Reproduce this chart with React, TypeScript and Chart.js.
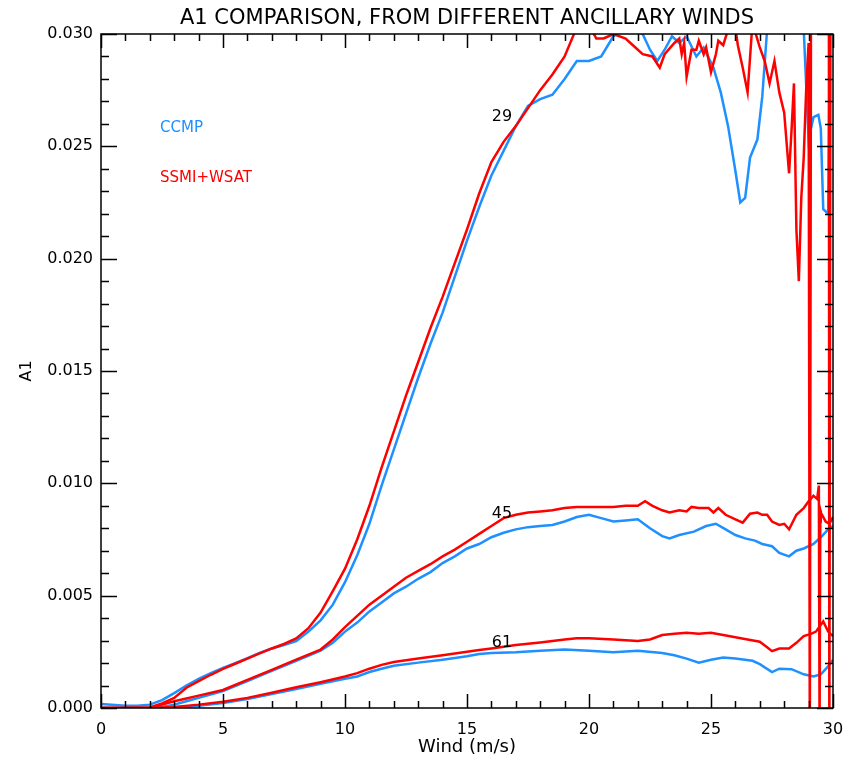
import React, { useEffect, useRef } from 'react';
import { Chart, registerables } from 'chart.js';

Chart.register(...registerables);

const FONT = '"DejaVu Sans", sans-serif';
const TITLE = 'A1 COMPARISON, FROM DIFFERENT ANCILLARY WINDS';
const X_TITLE = 'Wind (m/s)';
const Y_TITLE = 'A1';
const BLUE = '#1e90ff';
const RED = '#ff0000';

// Axis ranges / ticks
const xRange = [0, 30];
const yRange = [0, 0.03];
const xMajorStep = 5;
const xMinorStep = 1;
const yMajorStep = 0.005;
const yMinorStep = 0.001;

// CCMP, 29
const ccmp29W = [0, 1, 1.5, 2, 2.5, 3, 3.5, 4, 4.5, 5, 5.5, 6, 6.5, 7, 7.5, 8, 8.5, 9, 9.5, 10, 10.5, 11, 11.5, 12, 12.5, 13, 13.5, 14, 14.5, 15, 15.5, 16, 16.5, 17, 17.5, 18, 18.5, 19, 19.5, 20, 20.5, 21, 21.3, 21.8, 22.2, 22.5, 22.8, 23.1, 23.4, 23.7, 24, 24.4, 24.7, 25.1, 25.4, 25.7, 26, 26.2, 26.4, 26.6, 26.9, 27.1, 27.3, 27.6, 28, 28.5, 28.8, 29, 29.2, 29.4, 29.5, 29.6, 29.8, 29.9];
const ccmp29 = [0.00018, 0.0001, 0.0001, 0.00015, 0.00035, 0.00066, 0.001, 0.0013, 0.00155, 0.00179, 0.002, 0.00222, 0.00245, 0.00265, 0.0028, 0.00298, 0.0034, 0.0039, 0.0046, 0.0056, 0.0068, 0.0082, 0.0099, 0.0115, 0.0131, 0.0147, 0.0162, 0.0176, 0.0192, 0.0208, 0.0223, 0.0237, 0.0248, 0.0259, 0.0268, 0.0271, 0.0273, 0.028, 0.0288, 0.0288, 0.029, 0.0299, 0.0301, 0.0303, 0.03, 0.0293, 0.0288, 0.0293, 0.0299, 0.0296, 0.0299, 0.029, 0.0294, 0.0285, 0.0274, 0.0259, 0.0239, 0.0225, 0.0227, 0.0245, 0.0253, 0.0272, 0.0302, 0.0315, 0.032, 0.0315, 0.0302, 0.0253, 0.0263, 0.0264, 0.0258, 0.0222, 0.022, 0.033];

// SSMI+WSAT, 29
const ssmi29W = [0, 1, 2, 2.5, 3, 3.5, 4, 4.5, 5, 5.5, 6, 6.5, 7, 7.5, 8, 8.5, 9, 9.5, 10, 10.5, 11, 11.5, 12, 12.5, 13, 13.5, 14, 14.5, 15, 15.5, 16, 16.5, 17, 17.5, 18, 18.5, 19, 19.5, 20, 20.3, 20.6, 21, 21.5, 21.8, 22.2, 22.6, 22.9, 23.1, 23.5, 23.7, 23.8, 23.9, 24, 24.2, 24.4, 24.5, 24.7, 24.8, 25, 25.2, 25.3, 25.5, 25.7, 25.9, 26.1, 26.3, 26.5, 26.7, 27, 27.2, 27.4, 27.6, 27.8, 28, 28.2, 28.3, 28.4, 28.5, 28.6, 28.7, 28.8, 28.9, 29, 29.05, 29.1, 29.5, 29.83, 29.85, 29.9, 30];
const ssmi29 = [0, 0, 0.00002, 0.0002, 0.00045, 0.0009, 0.0012, 0.00148, 0.00174, 0.00197, 0.0022, 0.00243, 0.00265, 0.00285, 0.0031, 0.00355, 0.00425, 0.0052, 0.0062, 0.0075, 0.009, 0.0107, 0.0123, 0.0139, 0.0154, 0.0169, 0.0183, 0.0198, 0.0213, 0.0229, 0.0243, 0.0252, 0.0259, 0.0267, 0.0275, 0.0282, 0.029, 0.0303, 0.0304, 0.0298, 0.0298, 0.03, 0.0298, 0.0295, 0.0291, 0.029, 0.0285, 0.0291, 0.0296, 0.0298, 0.0291, 0.0296, 0.0281, 0.0293, 0.0293, 0.0297, 0.0291, 0.0294, 0.0283, 0.0291, 0.0297, 0.0295, 0.0302, 0.031, 0.0295, 0.0285, 0.0274, 0.0305, 0.0294, 0.0288, 0.0278, 0.0288, 0.0274, 0.0265, 0.0238, 0.0257, 0.0278, 0.0213, 0.019, 0.0227, 0.0245, 0.0275, 0.0296, -0.002, 0.033, 0.034, 0.034, -0.002, 0.034, 0.034];

// CCMP, 45
const ccmp45W = [0, 2, 2.5, 3, 3.5, 4, 5, 6, 7, 8, 9, 9.5, 10, 10.5, 11, 11.5, 12, 12.5, 13, 13.5, 14, 14.5, 15, 15.5, 16, 16.5, 17, 17.5, 18, 18.5, 19, 19.5, 20, 20.5, 21, 21.5, 22, 22.5, 23, 23.3, 23.7, 24.3, 24.8, 25.2, 25.6, 26, 26.4, 26.8, 27.1, 27.5, 27.8, 28.2, 28.5, 28.8, 29.2, 29.5, 29.8, 30];
const ccmp45 = [0, 0, 0.00005, 0.00015, 0.0003, 0.00045, 0.00075, 0.0012, 0.00165, 0.0021, 0.00255, 0.0029, 0.0034, 0.0038, 0.0043, 0.0047, 0.0051, 0.0054, 0.00575, 0.00605, 0.00645, 0.00675, 0.0071, 0.0073, 0.0076, 0.0078, 0.00795, 0.00805, 0.0081, 0.00815, 0.0083, 0.0085, 0.0086, 0.00845, 0.0083, 0.00835, 0.0084, 0.008, 0.00765, 0.00755, 0.0077, 0.00785, 0.0081, 0.0082, 0.00795, 0.0077, 0.00755, 0.00745, 0.0073, 0.0072, 0.0069, 0.00675, 0.007, 0.0071, 0.0073, 0.0076, 0.00795, 0.0081];

// SSMI+WSAT, 45
const ssmi45W = [0, 2, 2.5, 3, 3.5, 4, 5, 6, 7, 8, 9, 9.5, 10, 10.5, 11, 11.5, 12, 12.5, 13, 13.5, 14, 14.5, 15, 15.5, 16, 16.5, 17, 17.5, 18, 18.5, 19, 19.5, 20, 20.5, 21, 21.5, 22, 22.3, 22.6, 23, 23.3, 23.7, 24, 24.2, 24.5, 24.9, 25.1, 25.3, 25.6, 26, 26.3, 26.6, 26.9, 27.1, 27.3, 27.5, 27.8, 28, 28.2, 28.5, 28.8, 29, 29.2, 29.35, 29.42, 29.45, 29.48, 29.5, 29.7, 29.85, 30];
const ssmi45 = [0, 0, 0.00015, 0.0003, 0.00042, 0.00055, 0.0008, 0.00125, 0.0017, 0.00215, 0.0026, 0.00305, 0.0036, 0.0041, 0.0046, 0.005, 0.0054, 0.0058, 0.0061, 0.0064, 0.00675, 0.00705, 0.0074, 0.00775, 0.0081, 0.00845, 0.0086, 0.0087, 0.00875, 0.0088, 0.0089, 0.00895, 0.00895, 0.00895, 0.00895, 0.009, 0.009, 0.0092, 0.009, 0.0088, 0.0087, 0.0088, 0.00875, 0.00895, 0.0089, 0.0089, 0.0087, 0.0089, 0.0086, 0.0084, 0.00825, 0.00865, 0.0087, 0.0086, 0.0086, 0.0083, 0.00815, 0.0082, 0.00795, 0.0086, 0.0089, 0.0092, 0.00945, 0.0093, 0.0099, -0.001, 0.0088, 0.0087, 0.0083, 0.0082, 0.0085];

// CCMP, 61
const ccmp61W = [0, 2, 3, 4, 5, 6, 7, 8, 9, 10, 10.5, 11, 11.5, 12, 13, 14, 15, 15.5, 16, 17, 18, 19, 20, 21, 22, 23, 23.5, 24, 24.5, 25, 25.5, 26, 26.7, 27, 27.5, 27.8, 28.3, 28.8, 29.2, 29.5, 29.8, 30];
const ccmp61 = [0, 0, 0.00002, 0.0001, 0.00022, 0.0004, 0.00062, 0.00085, 0.00108, 0.0013, 0.0014, 0.0016, 0.00175, 0.00188, 0.00202, 0.00215, 0.0023, 0.0024, 0.00245, 0.00248, 0.00255, 0.0026, 0.00255, 0.00248, 0.00255, 0.00245, 0.00235, 0.0022, 0.00202, 0.00215, 0.00225, 0.0022, 0.0021, 0.00195, 0.0016, 0.00175, 0.00173, 0.0015, 0.0014, 0.0015, 0.00185, 0.00215];

// SSMI+WSAT, 61
const ssmi61W = [0, 2, 3, 4, 5, 6, 7, 8, 9, 10, 10.5, 11, 11.5, 12, 13, 14, 15, 15.5, 16, 17, 18, 19, 19.5, 20, 21, 22, 22.5, 23, 23.5, 24, 24.5, 25, 25.5, 26, 26.5, 27, 27.3, 27.5, 27.8, 28.2, 28.5, 28.8, 29.1, 29.3, 29.6, 29.8, 30];
const ssmi61 = [0, 0, 0.00005, 0.00015, 0.00028, 0.00045, 0.00068, 0.00092, 0.00115, 0.0014, 0.00155, 0.00175, 0.00192, 0.00205, 0.0022, 0.00235, 0.0025, 0.00258, 0.00265, 0.0028, 0.00292, 0.00305, 0.0031, 0.0031, 0.00305, 0.00298, 0.00305, 0.00325, 0.0033, 0.00335, 0.0033, 0.00335, 0.00325, 0.00315, 0.00305, 0.00295, 0.0027, 0.00253, 0.00265, 0.00265, 0.0029, 0.0032, 0.0033, 0.0034, 0.00385, 0.0034, 0.0032];

// In-plot text (data coordinates)
const labelText = ['29', '45', '61', 'CCMP', 'SSMI+WSAT'];
const labelX = [16.43, 16.43, 16.43, 2.42, 2.42];
const labelY = [0.0263, 0.00864, 0.00289, 0.0258, 0.0236];
const labelColor = ['#000', '#000', '#000', BLUE, RED];
const labelAlign: CanvasTextAlign[] = ['center', 'center', 'center', 'left', 'left'];

const zip = (xs: number[], ys: number[]) => xs.map((x, i) => ({ x, y: ys[i] }));

const framePlugin = {
  id: 'frameTicks',
  afterDatasetsDraw(chart: any) {
    const { ctx, chartArea, scales } = chart;
    const { left, right, top, bottom } = chartArea;
    const xs = scales.x;
    const ys = scales.y;
    ctx.save();
    ctx.strokeStyle = '#000';
    ctx.lineWidth = 1.5;
    ctx.strokeRect(left, top, right - left, bottom - top);
    ctx.beginPath();
    const nx = Math.round((xRange[1] - xRange[0]) / xMinorStep);
    for (let i = 0; i <= nx; i++) {
      const v = xRange[0] + i * xMinorStep;
      const px = Math.round(xs.getPixelForValue(v)) + 0.5;
      const major = Math.abs(v / xMajorStep - Math.round(v / xMajorStep)) < 1e-6;
      const len = major ? 14 : 7;
      ctx.moveTo(px, bottom); ctx.lineTo(px, bottom - len);
      ctx.moveTo(px, top); ctx.lineTo(px, top + len);
    }
    const ny = Math.round((yRange[1] - yRange[0]) / yMinorStep);
    for (let i = 0; i <= ny; i++) {
      const v = yRange[0] + i * yMinorStep;
      const py = Math.round(ys.getPixelForValue(v)) + 0.5;
      const major = i % Math.round(yMajorStep / yMinorStep) === 0;
      const len = major ? 16 : 8;
      ctx.moveTo(left, py); ctx.lineTo(left + len, py);
      ctx.moveTo(right, py); ctx.lineTo(right - len, py);
    }
    ctx.stroke();
    ctx.textBaseline = 'middle';
    for (let i = 0; i < labelText.length; i++) {
      ctx.font = i < 3 ? `16px ${FONT}` : `15px ${FONT}`;
      ctx.fillStyle = labelColor[i];
      ctx.textAlign = labelAlign[i];
      ctx.fillText(labelText[i], xs.getPixelForValue(labelX[i]), ys.getPixelForValue(labelY[i]));
    }
    ctx.restore();
  },
};

export default function App() {
  const ref = useRef<HTMLCanvasElement | null>(null);
  useEffect(() => {
    if (!ref.current) return;
    const line = (data: { x: number; y: number }[], color: string) => ({
      data,
      borderColor: color,
      backgroundColor: color,
      borderWidth: 2.5,
      pointRadius: 0,
      tension: 0,
      fill: false,
      clip: 0,
    });
    const chart = new Chart(ref.current, {
      type: 'line',
      data: {
        datasets: [
          line(zip(ssmi29W, ssmi29), RED),
          line(zip(ssmi45W, ssmi45), RED),
          line(zip(ssmi61W, ssmi61), RED),
          line(zip(ccmp29W, ccmp29), BLUE),
          line(zip(ccmp45W, ccmp45), BLUE),
          line(zip(ccmp61W, ccmp61), BLUE),
        ],
      },
      options: {
        responsive: false,
        animation: false,
        devicePixelRatio: 1,
        layout: { padding: { left: 0, right: 23, top: 0, bottom: 0 } },
        plugins: {
          legend: { display: false },
          tooltip: { enabled: false },
          title: {
            display: true,
            fullSize: false,
            text: TITLE,
            color: '#000',
            font: { family: FONT, size: 21, weight: 'normal' },
            padding: { top: 6, bottom: 2.8 },
          },
        },
        scales: {
          x: {
            type: 'linear',
            min: xRange[0],
            max: xRange[1],
            ticks: {
              stepSize: xMajorStep,
              color: '#000',
              font: { family: FONT, size: 16 },
              padding: 12,
              maxRotation: 0,
              autoSkip: false,
            },
            grid: { display: false, drawTicks: false },
            border: { display: false },
            title: {
              display: true,
              text: X_TITLE,
              color: '#000',
              font: { family: FONT, size: 18 },
              padding: { top: 0, bottom: 2 },
            },
            afterFit(s: any) { s.height = 52; },
          },
          y: {
            type: 'linear',
            min: yRange[0],
            max: yRange[1],
            ticks: {
              stepSize: yMajorStep,
              color: '#000',
              font: { family: FONT, size: 16 },
              padding: 8,
              callback: (v: any) => Number(v).toFixed(3),
            },
            grid: { display: false, drawTicks: false },
            border: { display: false },
            title: {
              display: true,
              text: Y_TITLE,
              color: '#000',
              font: { family: FONT, size: 16 },
              padding: { top: 17, bottom: 0 },
            },
            afterFit(s: any) { s.width = 101; },
          },
        },
      },
      plugins: [framePlugin],
    } as any);
    return () => chart.destroy();
  }, []);
  return (
    <div style={{ position: 'absolute', left: 0, top: 0, width: 856, height: 760, background: '#fff' }}>
      <canvas ref={ref} width={856} height={760} style={{ width: 856, height: 760, display: 'block' }} />
    </div>
  );
}
